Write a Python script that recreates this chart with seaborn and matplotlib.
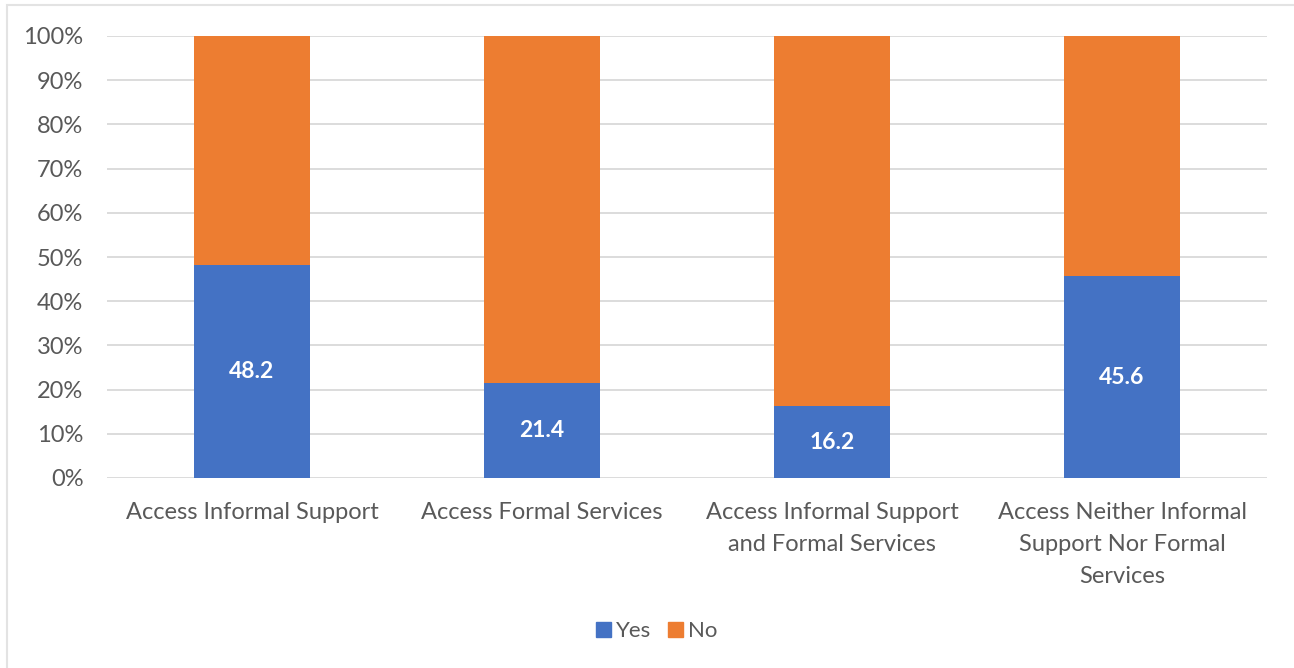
import matplotlib
matplotlib.use("Agg")
import matplotlib.pyplot as plt
import matplotlib.patches as mpatches
import seaborn as sns
import pandas as pd

categories = [
    "Access Informal Support",
    "Access Formal Services",
    "Access Informal Support\nand Formal Services",
    "Access Neither Informal\nSupport Nor Formal\nServices",
]
yes_values = [48.2, 21.4, 16.2, 45.6]
no_values = [round(100 - v, 1) for v in yes_values]
y_ticks = [0, 10, 20, 30, 40, 50, 60, 70, 80, 90, 100]
y_tick_labels = [f"{t}%" for t in y_ticks]

BLUE = "#4472C4"
ORANGE = "#ED7D31"
GRID = "#D9D9D9"
TEXT = "#595959"

sns.set_theme(style="white")
plt.rcParams["font.family"] = ["Lato", "DejaVu Sans"]

df = pd.DataFrame({"category": categories, "Yes": yes_values, "No": no_values})

fig = plt.figure(figsize=(12.94, 6.68), dpi=100)
ax = fig.add_axes([107 / 1294, 1 - 478 / 668, 1160 / 1294, 442 / 668])

# stacked bars: Yes at the base, No on top of it
sns.barplot(data=df, x="category", y="Yes", color=BLUE, width=0.4,
            saturation=1, ax=ax, zorder=3, linewidth=0)
sns.barplot(data=df, x="category", y="No", color=ORANGE, width=0.4,
            saturation=1, ax=ax, bottom=df["Yes"], zorder=3, linewidth=0)

for i, v in enumerate(yes_values):
    ax.text(i, v / 2, f"{v:.1f}", ha="center", va="center", color="white",
            fontsize=16.5, fontweight="bold", zorder=4)

ax.set_xlim(-0.5, 3.5)
ax.set_ylim(0, 100)
ax.set_yticks(y_ticks)
ax.set_yticklabels(y_tick_labels)
ax.set_xticks(range(len(categories)))
ax.set_xticklabels(categories, linespacing=1.65, va="top")
ax.yaxis.grid(True, color=GRID, linewidth=1.3, zorder=0)
ax.set_axisbelow(True)
for s in ax.spines.values():
    s.set_visible(False)
ax.set_xlabel("")
ax.set_ylabel("")
ax.tick_params(axis="y", length=0, pad=17, labelsize=17, labelcolor=TEXT)
ax.tick_params(axis="x", length=0, pad=17, labelsize=17, labelcolor=TEXT)

handles = [mpatches.Patch(color=BLUE, label="Yes"),
           mpatches.Patch(color=ORANGE, label="No")]
fig.legend(handles=handles, loc="center",
           bbox_to_anchor=(657 / 1294, 1 - 631 / 668),
           ncol=2, frameon=False, fontsize=16, labelcolor=TEXT,
           handlelength=0.65, handleheight=0.65, handletextpad=0.25,
           columnspacing=0.75)

# light frame around the chart area
frame = mpatches.Rectangle((7 / 1294, -0.05), 1.2, 1 - 5 / 668 + 0.05,
                           transform=fig.transFigure, fill=False,
                           edgecolor="#E3E3E3", linewidth=1.5)
fig.patches.append(frame)

fig.savefig("out.png", dpi=100, facecolor="white")
